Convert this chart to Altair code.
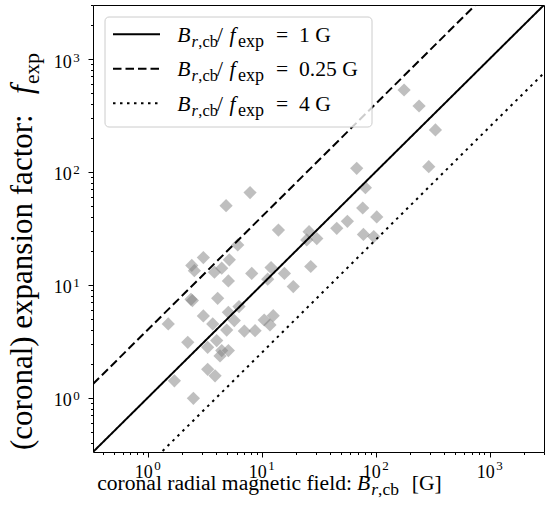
import altair as alt
import pandas as pd

# ---------------- data ----------------
B_r = [177.4, 240.2, 334.3, 292.1, 68.1, 81.2, 7.89, 4.86, 76.9, 102.1, 56.4, 45.5,
       14.0, 26.0, 30.4, 24.8, 78.0, 96.1, 6.15, 3.07, 2.43, 2.56, 5.19, 4.45, 3.84,
       8.16, 12.06, 11.27, 15.8, 26.9, 18.9, 5.09, 2.39, 2.46, 4.10, 6.31, 3.07, 5.09,
       1.51, 3.71, 5.74, 10.5, 12.6, 11.8, 4.92, 7.03, 8.73, 2.24, 4.02, 3.35, 4.45,
       5.09, 4.30, 3.35, 3.89, 1.71, 2.51]
f_exp = [530, 382.6, 234.6, 111.1, 107.4, 72.4, 65.4, 50.1, 47.8, 39.8, 36.4, 31.6,
         30.5, 29.5, 25.6, 24.9, 27.9, 26.7, 22.5, 17.4, 14.8, 13.3, 16.6, 14.0, 12.9,
         12.6, 14.2, 11.2, 12.6, 14.5, 9.62, 10.8, 7.43, 7.23, 7.58, 6.40, 5.29, 5.70,
         4.49, 4.49, 4.81, 4.87, 5.32, 4.40, 3.97, 3.89, 3.92, 3.09, 3.20, 2.79, 2.61,
         2.61, 2.34, 1.78, 1.56, 1.41, 0.987]

ratios = [1.0, 0.25, 4.0]            # B_r,cb / f_exp  [G]
ratio_labels = ["1", "0.25", "4"]
line_B = [0.33, 3000]                 # end points of reference lines
axis_domain = [0.33, 3000]
major_ticks = [1, 10, 100, 1000]
major_exps = ["0", "1", "2", "3"]

FONT = "Liberation Serif"
W, H = 451, 447

pts = pd.DataFrame({"B": B_r, "f": f_exp})
lines = pd.DataFrame([{"B": b, "ratio": r} for r in ratios for b in line_B])
xlab = pd.DataFrame({"B": major_ticks, "base": ["10"] * 4, "sup": major_exps})
ylab = pd.DataFrame({"f": major_ticks, "base": ["10"] * 4, "sup": major_exps})
dummy = alt.Data(values=[{"a": 1}])

minor = [k * 10.0 ** d for d in range(-1, 4) for k in range(1, 10)
         if axis_domain[0] <= k * 10.0 ** d <= axis_domain[1]]
major_test = "abs(log(datum.value)/LN10 - round(log(datum.value)/LN10)) < 1e-6"
tick_size = {"condition": {"test": major_test, "value": 5}, "value": 2.5}

xs = alt.Scale(type="log", domain=axis_domain, nice=False)
ys = alt.Scale(type="log", domain=axis_domain, nice=False)
ax_x = alt.Axis(values=minor, labels=False, title=None, grid=False, domain=False,
                tickColor="black", tickWidth=1, tickSize=tick_size)
ax_y = alt.Axis(values=minor, labels=False, title=None, grid=False, domain=False,
                tickColor="black", tickWidth=1, tickSize=tick_size)
X = alt.X("B:Q", scale=xs, axis=ax_x)
Y = alt.Y("f:Q", scale=ys, axis=ax_y)

scatter = alt.Chart(pts).mark_point(shape="diamond", filled=True, size=175,
                                    color="gray", opacity=0.5, strokeWidth=0).encode(x=X, y=Y)

DASH = {0.25: [8.5, 4], 1.0: [1, 0], 4.0: [2.5, 4.5]}
ref_lines = alt.Chart(lines).transform_calculate(
    f="datum.B / datum.ratio"
).mark_line(clip=True, color="black", strokeWidth=2).encode(
    x=X, y=Y, detail="ratio:N",
    strokeDash=alt.StrokeDash("ratio:N", legend=None,
                              scale=alt.Scale(domain=[0.25, 1, 4],
                                              range=[DASH[0.25], DASH[1.0], DASH[4.0]])))

# tick labels (positioned through the scales)
xl_base = alt.Chart(xlab).mark_text(align="right", baseline="alphabetic", dx=5,
                                    fontSize=18, font=FONT, color="black").encode(
    x=X, y=alt.value(472.5), text="base:N")
xl_sup = alt.Chart(xlab).mark_text(align="left", baseline="alphabetic", dx=6.5,
                                   fontSize=13, font=FONT, color="black").encode(
    x=X, y=alt.value(464.5), text="sup:N")
yl_base = alt.Chart(ylab).mark_text(align="right", baseline="alphabetic", dy=8.7,
                                    fontSize=18, font=FONT, color="black").encode(
    y=Y, x=alt.value(-21.3), text="base:N")
yl_sup = alt.Chart(ylab).mark_text(align="left", baseline="alphabetic", dy=2.7,
                                   fontSize=13, font=FONT, color="black").encode(
    y=Y, x=alt.value(-19.7), text="sup:N")


def txt(s, x, y, size=21.6, italic=False, align="left", angle=None):
    kw = dict(align=align, baseline="alphabetic", fontSize=size, font=FONT, color="black")
    if italic:
        kw["fontStyle"] = "italic"
    if angle is not None:
        kw["angle"] = angle
    return alt.Chart(dummy).mark_text(**kw).encode(
        x=alt.value(x), y=alt.value(y), text=alt.value(s))


def Brcb(x0, y0, size=21.6, sub=16.5):
    return [txt("B", x0, y0, size, italic=True),
            txt("r", x0 + 14.3, y0 + 5, sub, italic=True),
            txt(",cb", x0 + 21, y0 + 5, sub)]


annots = []
# x title
annots.append(txt("coronal radial magnetic field:", 259, 485, align="right"))
annots += Brcb(264, 485, sub=17.5)
annots.append(txt("[G]", 318.7, 485))
# y title (rotated, reads bottom to top)
annots.append(txt("(coronal) expansion factor:", -61, 445, size=31, angle=270))
annots.append(txt("f", -61, 89, size=31, italic=True, angle=270))
annots.append(txt("exp", -54.5, 79, size=21.5, angle=270))

# legend
annots.append(alt.Chart(dummy).mark_rect(fill="white", fillOpacity=0.8, stroke="#cccccc",
                                         strokeWidth=1, cornerRadius=4).encode(
    x=alt.value(12), x2=alt.value(279), y=alt.value(12), y2=alt.value(122)))
for i, (r, lab) in enumerate(zip(ratios, ratio_labels)):
    ly = 29.3 + 34.5 * i
    by = 36.5 + 34.5 * i
    annots.append(alt.Chart(dummy).mark_rule(color="black", strokeWidth=2,
                                             strokeDash=DASH[r]).encode(
        x=alt.value(20), x2=alt.value(67), y=alt.value(ly)))
    annots += Brcb(84.3, by)
    annots.append(txt("/", 124, by))
    annots.append(txt("f", 136.5, by, italic=True))
    annots.append(txt("exp", 145, by + 5, 18))
    annots.append(txt("=", 183, by))
    annots.append(txt(lab + " G", 206, by))

chart = alt.layer(scatter, ref_lines, xl_base, xl_sup, yl_base, yl_sup, *annots).properties(
    width=W, height=H,
    autosize=alt.AutoSizeParams(type="none"),
    padding={"left": 93, "top": 5, "right": 10, "bottom": 70},
    background="white",
).configure_view(stroke="black", strokeWidth=1)

chart.save("out.html", embed_options={"renderer": "svg", "actions": False})
